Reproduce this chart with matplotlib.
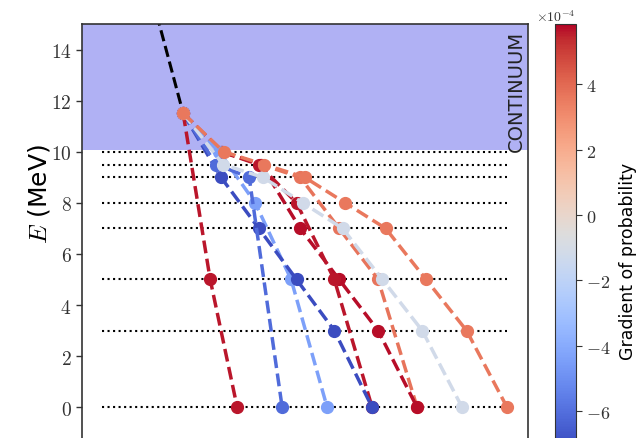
import numpy as np
import matplotlib
matplotlib.use('Agg')
import matplotlib.pyplot as plt
from matplotlib import cm, colors
from matplotlib.ticker import FuncFormatter

plt.rcParams['mathtext.fontset'] = 'cm'

# energy levels (MeV) and cascade paths
levels = [10, 9.5, 9, 8, 7, 5, 3, 0]
e_start = 11.5
continuum = 10.05

paths = [
    [11.5, 10, 9.5, 9, 7, 5, 0],
    [11.5, 10, 9.5, 7, 5, 3, 0],
    [11.5, 10, 9.5, 8, 5, 0],
    [11.5, 10, 8, 5, 0],
    [11.5, 9, 7, 5, 3, 0],
    [11.5, 9.5, 9, 0],
    [11.5, 5, 0],
    [11.5, 9.5, 9, 8, 7, 5, 3, 0],
    [11.5, 10, 9.5, 9, 8, 7, 5, 3, 0],
]
# gradient of probability, units of 1e-4
grads = [3.7, 5.7, 5.6, -4.4, -7.0, -6.1, 5.6, -1.2, 3.6]

x_start = 1.8
vmin, vmax = -7.05e-4, 5.85e-4

fig = plt.figure(figsize=(6.41, 4.39), dpi=100)
ax = fig.add_axes([82/641, 1 - 446.5/439, 445.7/641, 421.5/439])

ax.axhspan(continuum, 20, color='#b0b1f4', zorder=0, lw=0)
ax.text(0.995, 0.985, 'CONTINUUM', transform=ax.transAxes, rotation=90,
        ha='right', va='top', fontsize=14, color='#222222')

for lv in levels:
    ax.plot([0, 9], [lv, lv], ls=':', color='black', lw=1.5, zorder=1)

# feeding line from above
ax.plot([x_start - 0.152 * 5, x_start], [e_start + 5, e_start], ls='--',
        color='black', lw=2.2, zorder=2)

norm = colors.Normalize(vmin=vmin, vmax=vmax)
cmap = plt.get_cmap('coolwarm')
for p, g in zip(paths, grads):
    n = len(p) - 1
    xs = np.linspace(x_start, n + 1, n + 1)
    c = cmap(norm(g * 1e-4))
    ax.plot(xs, p, ls='--', lw=2.5, color=c, marker='o', markersize=8.5, zorder=3)

ax.set_xlim(-0.45, 9.46)
ax.set_ylim(-1.5, 15)
ax.set_xticks([])
ax.set_yticks(range(0, 15, 2))
ax.yaxis.set_major_formatter(FuncFormatter(lambda v, p: f'${v:g}$'))
ax.tick_params(axis='y', labelsize=14, length=4, width=1, colors='#333333')
for s in ax.spines.values():
    s.set_color('#333333')
    s.set_linewidth(1.2)
ax.set_ylabel('$E$ (MeV)', fontsize=18)
ax.yaxis.set_label_coords(-0.068, 0.60)

cax = fig.add_axes([555/641, 1 - 446.5/439, 21/641, 421.5/439])
sm = cm.ScalarMappable(norm=norm, cmap=cmap)
cb = fig.colorbar(sm, cax=cax)
cb.set_ticks([-6e-4, -4e-4, -2e-4, 0, 2e-4, 4e-4])
cb.ax.yaxis.set_major_formatter(FuncFormatter(lambda v, p: f'${v*1e4:g}$'))
cb.ax.tick_params(labelsize=13, length=4, colors='#333333')
cb.outline.set_edgecolor('#333333')
cb.set_label('Gradient of probability', fontsize=12.5)
cb.ax.yaxis.set_label_coords(3.05, 0.44)
fig.text(536/641, 1 - 17/439, r'$\times10^{-4}$', fontsize=10, color='#333333',
         ha='left', va='center')

fig.savefig('out.png', dpi=100)
